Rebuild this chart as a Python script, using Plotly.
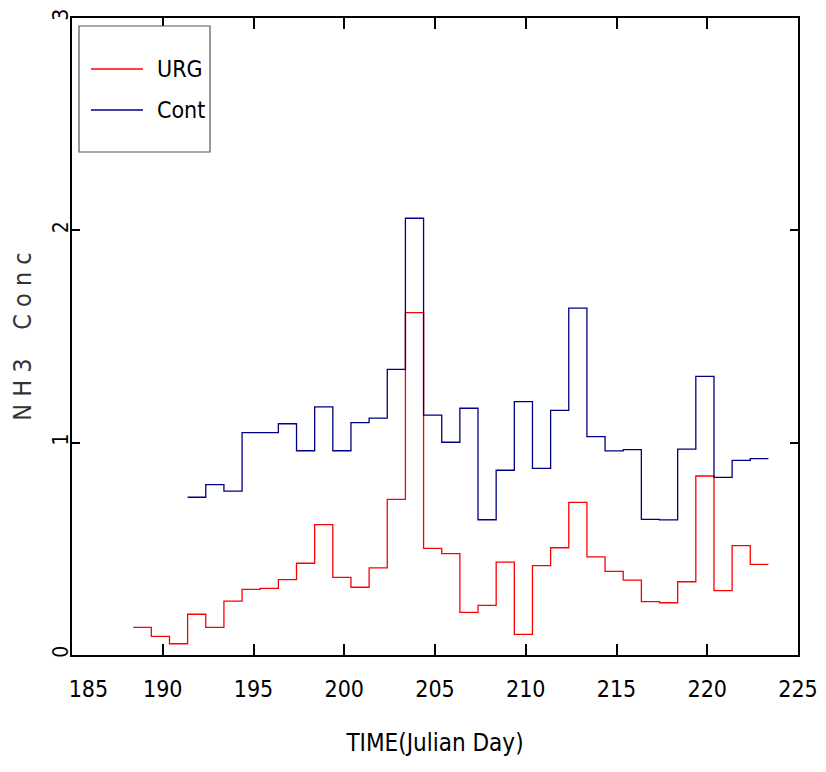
import plotly.graph_objects as go

# ---- data ----
urg_start = 188.37          # start time of first URG bin (Julian day)
urg_vals = [0.130, 0.088, 0.053, 0.192, 0.130, 0.254, 0.309, 0.314, 0.355, 0.432,
            0.614, 0.366, 0.319, 0.410, 0.733, 1.612, 0.502, 0.477, 0.201, 0.234,
            0.437, 0.097, 0.421, 0.505, 0.719, 0.462, 0.394, 0.353, 0.251, 0.246,
            0.345, 0.843, 0.303, 0.515, 0.427]
cont_start = 191.37
cont_vals = [0.743, 0.802, 0.772, 1.047, 1.047, 1.089, 0.962, 1.169, 0.962, 1.094,
             1.116, 1.345, 2.057, 1.130, 1.002, 1.162, 0.637, 0.870, 1.193, 0.879,
             1.152, 1.634, 1.028, 0.961, 0.967, 0.639, 0.636, 0.970, 1.312, 0.837,
             0.917, 0.925]
bin_width = 1.0
x_ticks = [185, 190, 195, 200, 205, 210, 215, 220, 225]
y_ticks = [0, 1, 2, 3]
series_names = ["URG", "Cont"]
series_colors = ["#ff0000", "#000080"]

FONT = "DejaVu Sans Condensed, Liberation Sans Narrow, sans-serif"


def steps(start, vals):
    xs = [start + i * bin_width for i in range(len(vals) + 1)]
    ys = list(vals) + [vals[-1]]
    return xs, ys


fig = go.Figure()
for name, start, vals, col in zip(series_names, [urg_start, cont_start],
                                  [urg_vals, cont_vals], series_colors):
    xs, ys = steps(start, vals)
    fig.add_trace(go.Scatter(x=xs, y=ys, mode="lines", name=name,
                             line=dict(color=col, width=1.3, shape="hv"),
                             showlegend=False))

# custom legend box
fig.add_shape(type="rect", xref="paper", yref="paper",
              x0=(79 - 72) / 726, x1=(210 - 72) / 726,
              y0=(655 - 152) / 637, y1=(655 - 26) / 637,
              line=dict(color="#555555", width=1.2), fillcolor="white")
for i, (name, col) in enumerate(zip(series_names, series_colors)):
    ypx = 69 + i * 41
    yp = (655 - ypx) / 637
    fig.add_shape(type="line", xref="paper", yref="paper",
                  x0=(91 - 72) / 726, x1=(143 - 72) / 726, y0=yp, y1=yp,
                  line=dict(color=col, width=1.3))
    fig.add_annotation(xref="paper", yref="paper", x=(155 - 72) / 726, y=yp,
                       text=name, showarrow=False, xanchor="left", yanchor="middle",
                       font=dict(family=FONT, size=23, color="black", weight=300))

tick_text = [("\u00a0" * 5 + str(v)) if v == x_ticks[0] else str(v) for v in x_ticks]

fig.update_xaxes(range=[185, 225], tickvals=x_ticks, ticktext=tick_text,
                 ticks="inside", ticklen=11, tickwidth=1.5, tickcolor="black",
                 showline=True, linewidth=2, linecolor="black", mirror="ticks",
                 showgrid=False, zeroline=False, ticklabelstandoff=12,
                 tickfont=dict(family=FONT, size=23, color="black", weight=300),
                 title=dict(text="TIME(Julian Day)", standoff=34,
                            font=dict(family=FONT, size=24, color="black", weight=300)))
fig.update_yaxes(range=[0, 3], tickvals=y_ticks, tickangle=-90,
                 ticks="inside", ticklen=8, tickwidth=1.5, tickcolor="black",
                 showline=True, linewidth=2, linecolor="black", mirror="ticks",
                 showgrid=False, zeroline=False, ticklabelstandoff=-6,
                 tickfont=dict(family=FONT, size=21, color="black", weight=300),
                 title=dict(text="N\u00a0H\u00a03\u00a0\u00a0\u00a0\u00a0C\u00a0o\u00a0n\u00a0c",
                            standoff=10,
                            font=dict(family=FONT, size=25, color="#333333", weight=300)))

fig.update_layout(width=826, height=772, plot_bgcolor="white", paper_bgcolor="white",
                  margin=dict(l=72, r=28, t=18, b=117, autoexpand=False),
                  showlegend=False)

fig.write_html("out.html")
